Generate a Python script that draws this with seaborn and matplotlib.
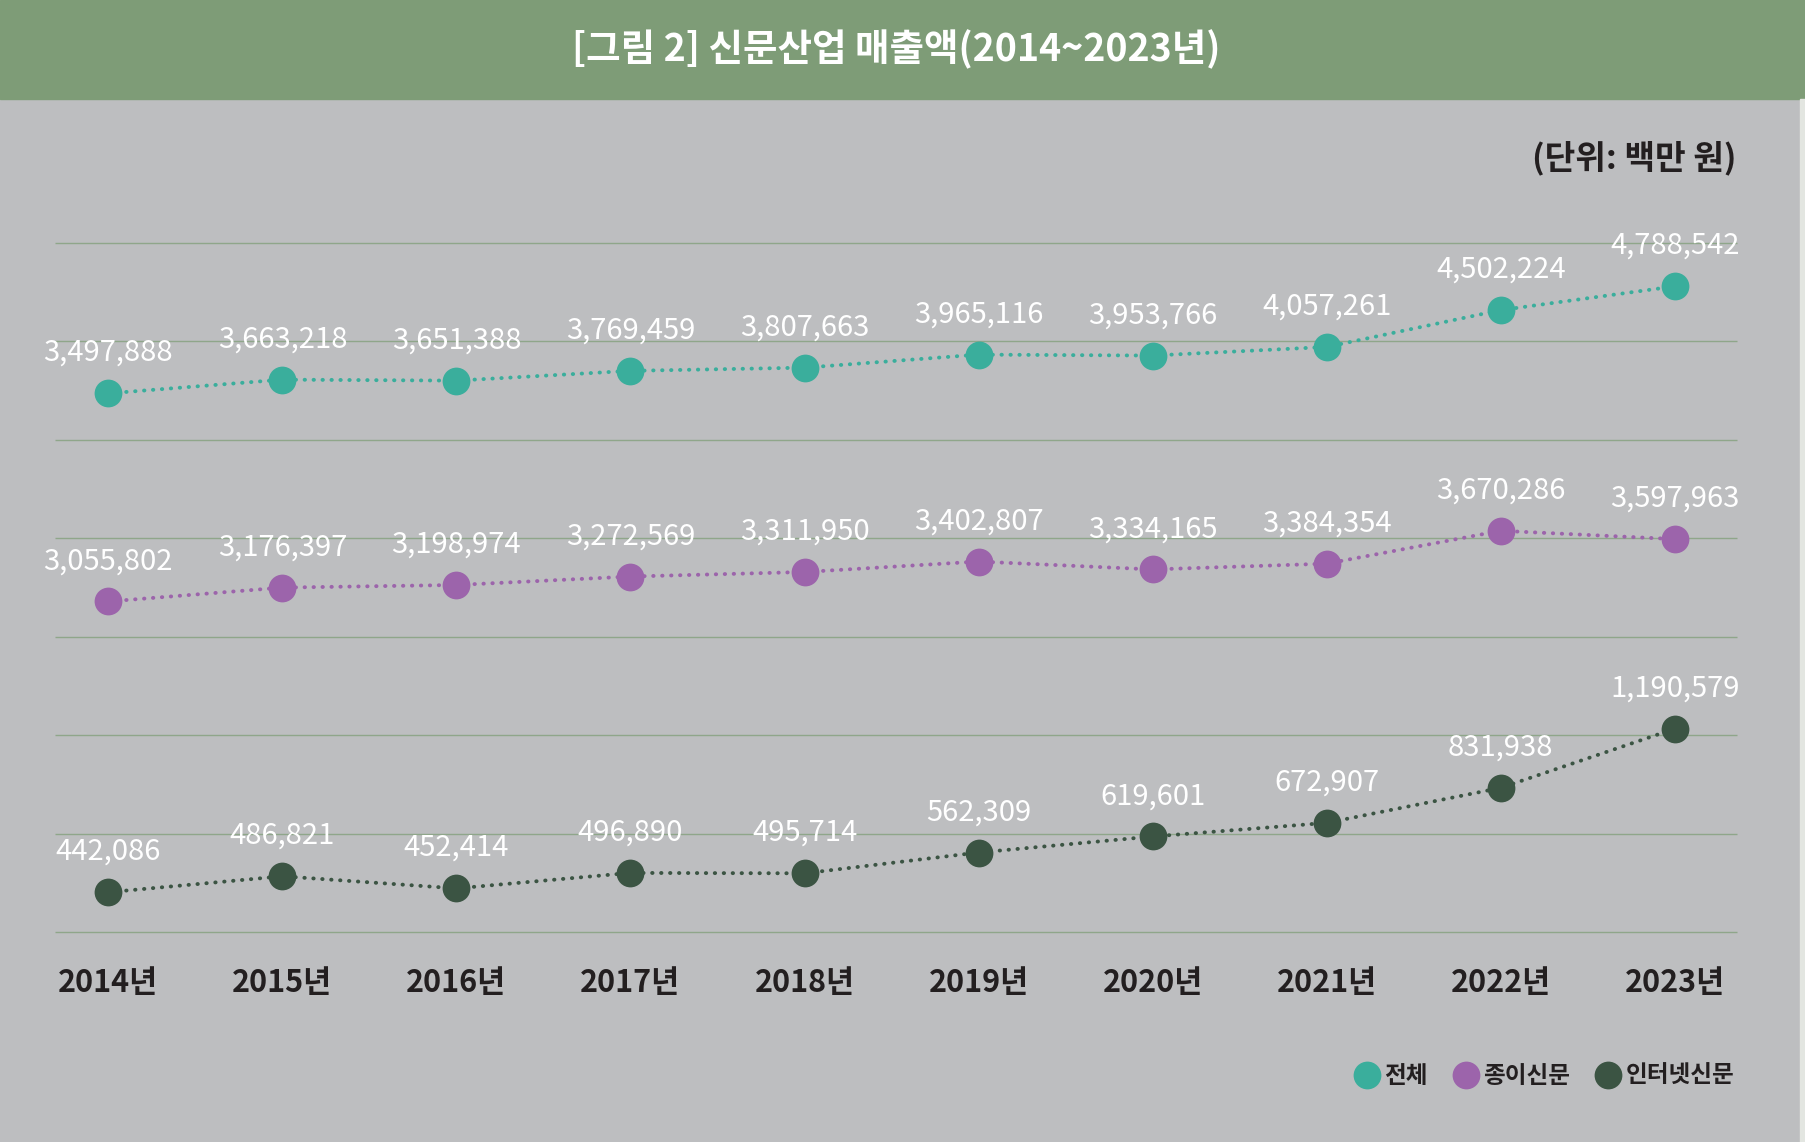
import numpy as np
import matplotlib
matplotlib.use('Agg')
import matplotlib.pyplot as plt
from matplotlib.patches import Rectangle
from matplotlib.lines import Line2D
import seaborn as sns

sns.set_style("white")
plt.rcParams['font.family'] = ['Noto Sans CJK KR', 'DejaVu Sans']

# Data (단위: 백만 원)
years = ['2014년', '2015년', '2016년', '2017년', '2018년',
         '2019년', '2020년', '2021년', '2022년', '2023년']
total = [3497888, 3663218, 3651388, 3769459, 3807663,
         3965116, 3953766, 4057261, 4502224, 4788542]
paper = [3055802, 3176397, 3198974, 3272569, 3311950,
         3402807, 3334165, 3384354, 3670286, 3597963]
internet = [442086, 486821, 452414, 496890, 495714,
            562309, 619601, 672907, 831938, 1190579]
series_names = ['전체', '종이신문', '인터넷신문']
colors = ['#3aae9c', '#9c64ab', '#3b5443']

# layout grid (reference pixels)
W, H = 1568, 992


def box(left, top, right, bottom):
    return [left / W, 1 - bottom / H, (right - left) / W, (bottom - top) / H]


fig = plt.figure(figsize=(18.06, 11.42), dpi=100, facecolor='#bdbec0')

# header band + right strip
fig.patches.append(Rectangle((0, 1 - 86 / H), 1, 86 / H, transform=fig.transFigure,
                             color='#7e9c77', zorder=0))
fig.patches.append(Rectangle((1563 / W, 0), 5 / W, 1 - 86 / H, transform=fig.transFigure,
                             color='#e3e6e1', zorder=0))
fig.text(778 / W, 1 - 43 / H, '[그림 2] 신문산업 매출액(2014~2023년)', ha='center', va='center',
         color='white', fontsize=27, fontweight='bold')
fig.text(1508 / W, 1 - 137 / H, '(단위: 백만 원)', ha='right', va='center',
         color='#231f20', fontsize=24, fontweight='bold')

xlim = (-0.305, 9.357)

# horizontal grid lines
ax_bg = fig.add_axes(box(48, 211, 1508, 810))
ax_bg.set_xlim(0, 1)
ax_bg.set_ylim(0, 7)
ax_bg.hlines(np.arange(8), 0, 1, color='#8fa68a', lw=1.0, clip_on=False)
ax_bg.axis('off')

# each series gets its own band with its own y-scale
bands = [(211, 382), (382, 553), (553, 810)]
ylims = [(2937800, 5312800), (2750000, 4461700), (346300, 2081000)]
scales = ['linear', 'linear', 'log']
values = [total, paper, internet]

x = np.arange(len(years))
for vals, color, (top, bottom), ylim, scale in zip(values, colors, bands, ylims, scales):
    ax = fig.add_axes(box(48, top, 1508, bottom))
    ax.patch.set_alpha(0)
    sns.lineplot(x=x, y=vals, ax=ax, color=color, marker='o', markersize=20,
                 markeredgewidth=0, linestyle=(0, (0.1, 2.2)), dash_capstyle='round',
                 linewidth=2.8, clip_on=False, zorder=3)
    ax.set_yscale(scale)
    ax.set_xlim(*xlim)
    ax.set_ylim(*ylim)
    for i, v in enumerate(vals):
        ax.annotate(f'{v:,}', (i, v), xytext=(0, 29), textcoords='offset points',
                    ha='center', va='center', color='white', fontsize=21,
                    fontweight='medium', annotation_clip=False, zorder=4)
    sns.despine(ax=ax, left=True, bottom=True)
    ax.set_yticks([])
    ax.minorticks_off()
    ax.set_ylabel('')
    ax.set_xlabel('')
    ax.set_xticks([])

ax.set_xticks(x)
ax.set_xticklabels(years, fontsize=22, fontweight='bold', color='#231f20')
ax.tick_params(axis='x', length=0, pad=25)

handles = [Line2D([], [], marker='o', ls='none', color=c, markersize=20, markeredgewidth=0)
           for c in colors]
fig.legend(handles, series_names, loc='center right', bbox_to_anchor=(1506 / W, 1 - 935 / H),
           ncol=3, frameon=False, prop=dict(size=17, weight='bold'), labelcolor='#231f20',
           handletextpad=0.15, columnspacing=1.0, handlelength=1.2,
           borderpad=0, borderaxespad=0)

fig.savefig('out.png', dpi=100, facecolor=fig.get_facecolor())
